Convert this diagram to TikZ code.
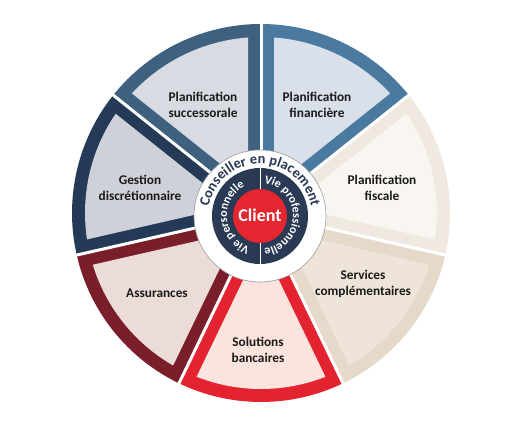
\documentclass[tikz,border=0pt]{standalone}
\usepackage{fontspec}
\setmainfont{Carlito}
\usetikzlibrary{decorations.text}
\definecolor{finB}{HTML}{4B7AA1}\definecolor{finF}{HTML}{D9E0EA}
\definecolor{sucB}{HTML}{3E6180}\definecolor{sucF}{HTML}{D9DBE3}
\definecolor{gesB}{HTML}{243A56}\definecolor{gesF}{HTML}{CFD1DA}
\definecolor{assB}{HTML}{7A1E2A}\definecolor{assF}{HTML}{ECDCD7}
\definecolor{solB}{HTML}{E42331}\definecolor{solF}{HTML}{FBE3DE}
\definecolor{serB}{HTML}{E6D9CA}\definecolor{serF}{HTML}{EFE4D9}
\definecolor{fisB}{HTML}{F0E9E2}\definecolor{fisF}{HTML}{F9F6F2}
\definecolor{navy}{HTML}{2A3A55}
\definecolor{cred}{HTML}{E3262F}
\definecolor{txt}{HTML}{1A1A1A}
\tikzset{
  lbl/.style={align=center, text=txt, font=\fontsize{13.3}{15.5}\selectfont\bfseries},
}
\begin{document}
\begin{tikzpicture}[x=1pt,y=1pt]
\useasboundingbox (0,0) rectangle (513,434);
\fill[white] (0,0) rectangle (513,434);
\begin{scope}[shift={(261,221)}]
\def\R{189}\def\W{13}
\pgfmathsetmacro\RW{\R-\W}
\pgfmathsetmacro\dd{\W/sin(25.7143)}
\pgfmathsetmacro\del{asin(\W/(\R-\W))}
\foreach \a/\bc/\fc in {38.5714/finB/finF, 90/sucB/sucF, 141.4286/gesB/gesF, 192.8571/assB/assF, 244.2857/solB/solF, 295.7143/serB/serF, 347.1429/fisB/fisF}{
  \pgfmathsetmacro\b{\a+51.4286}
  \pgfmathsetmacro\m{\a+25.7143}
  \pgfmathsetmacro\s{\a+\del}
  \pgfmathsetmacro\e{\b-\del}
  \fill[\bc] (0,0) -- (\a:\R) arc[start angle=\a, end angle=\b, radius=\R] -- cycle;
  \fill[\fc] (\m:\dd) -- (\s:\RW) arc[start angle=\s, end angle=\e, radius=\RW] -- cycle;
}
\foreach \a in {38.5714, 90, 141.4286, 192.8571, 244.2857, 295.7143, 347.1429}{
  \draw[white, line width=3] (0,0) -- (\a:\R+3);
}
\node[lbl] (fin) at (56,108) {Planification\\financière};
\node[lbl] (suc) at (-58,108) {Planification\\successorale};
\node[lbl] (ges) at (-121,25) {Gestion\\discrétionnaire};
\node[lbl] (fis) at (121,25) {Planification\\fiscale};
\node[lbl] (ass) at (-104,-80) {Assurances};
\node[lbl] (sol) at (-3,-137) {Solutions\\bancaires};
\node[lbl] (ser) at (102,-71) {Services\\complémentaires};
\end{scope}
\begin{scope}[shift={(260,218)}]
\fill[white, draw=gray!80, line width=0.6] (0,0) circle[radius=66];
\fill[navy] (0,0) circle[radius=48];
\draw[white, line width=1] (0,-48) -- (0,48);
\fill[cred] (0,0) circle[radius=27];
\node[text=white, font=\fontsize{18}{18}\selectfont\bfseries] (client) at (0,1) {Client};
\path[decorate, decoration={text along path, text align=center,
  text={|\fontsize{14.5}{14.5}\selectfont\bfseries\color{navy}|Conseiller en placement}}]
  (170:52) arc[start angle=170, end angle=10, radius=52];
\path[decorate, decoration={text along path, text align=center,
  text={|\fontsize{12}{12}\selectfont\bfseries\color{white}|Vie personnelle}}]
  (265:33) arc[start angle=265, end angle=105, radius=33];
\path[decorate, decoration={text along path, text align=center,
  text={|\fontsize{12}{12}\selectfont\bfseries\color{white}|Vie professionnelle}}]
  (88:33) arc[start angle=88, end angle=-88, radius=33];
\end{scope}
\end{tikzpicture}
\end{document}
